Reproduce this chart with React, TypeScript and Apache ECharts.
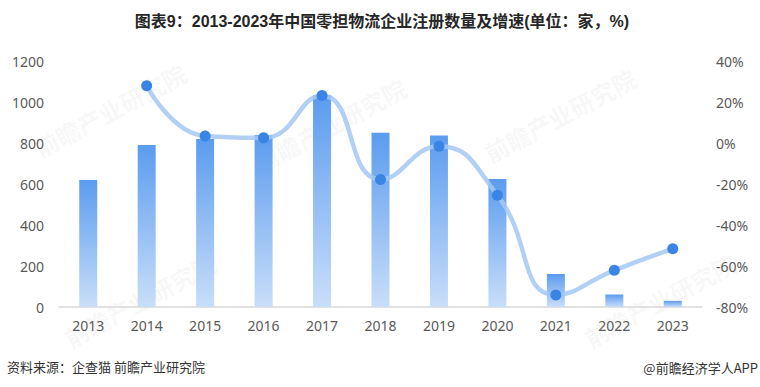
import React, { useEffect, useRef } from "react";
import * as echarts from "echarts";

const years = ["2013", "2014", "2015", "2016", "2017", "2018", "2019", "2020", "2021", "2022", "2023"];
const registrations = [619, 790, 819, 839, 1034, 850, 837, 624, 161, 61, 30];
const growth = [null, 27.9, 3.4, 2.5, 23.2, -17.8, -1.6, -25.5, -74.1, -62.1, -51.6];

const titleText = "图表9：2013-2023年中国零担物流企业注册数量及增速(单位：家，%)";
const sourceText = "资料来源：企查猫 前瞻产业研究院";
const brandText = "@前瞻经济学人APP";
const watermarkText = "前瞻产业研究院";

export default function App() {
  const ref = useRef<HTMLDivElement>(null);
  useEffect(() => {
    document.body.style.margin = "0";
    if (!ref.current) return;
    const chart = echarts.init(ref.current, null, { renderer: "svg" });
    const wm = (x: number, y: number) => ({
      type: "text",
      x,
      y,
      rotation: (28 * Math.PI) / 180,
      z: 0,
      silent: true,
      style: {
        text: watermarkText,
        fontSize: 24,
        fontWeight: "bold",
        fontFamily: "Noto Sans CJK SC",
        fill: "rgba(170,170,170,0.09)",
        align: "center",
        verticalAlign: "middle",
      },
    });
    chart.setOption({
      animation: false,
      grid: { left: 59, right: 58, top: 61, bottom: 80, containLabel: false },
      graphic: [
        wm(110, 110),
        wm(330, 125),
        wm(560, 115),
        wm(140, 300),
        wm(660, 300),
        {
          type: "text",
          x: 382,
          y: 21,
          z: 10,
          style: {
            text: titleText,
            fontSize: 16,
            fontWeight: "bold",
            fontFamily: "Liberation Sans, Noto Sans CJK SC",
            fill: "#262626",
            align: "center",
            verticalAlign: "middle",
          },
        },
        {
          type: "text",
          x: 7,
          y: 366,
          z: 10,
          style: {
            text: sourceText,
            fontSize: 13,
            fontFamily: "Noto Sans CJK SC",
            fill: "#333",
            align: "left",
            verticalAlign: "middle",
          },
        },
        {
          type: "text",
          x: 758,
          y: 367,
          z: 10,
          style: {
            text: brandText,
            fontSize: 13,
            fontFamily: "Noto Sans CJK SC",
            fill: "#333",
            align: "right",
            verticalAlign: "middle",
          },
        },
      ],
      xAxis: {
        type: "category",
        data: years,
        axisTick: { show: false },
        axisLine: { lineStyle: { color: "#d9d9d9", width: 1.5 } },
        axisLabel: { color: "#595959", fontSize: 14, fontFamily: "Noto Sans", margin: 11 },
      },
      yAxis: [
        {
          type: "value",
          min: 0,
          max: 1200,
          interval: 200,
          splitLine: { show: false },
          axisLine: { show: false },
          axisTick: { show: false },
          axisLabel: {
            color: "#595959",
            fontSize: 14,
            fontFamily: "Noto Sans",
            margin: 15,
            formatter: (v: number) => String(v),
          },
        },
        {
          type: "value",
          min: -80,
          max: 40,
          interval: 20,
          splitLine: { show: false },
          axisLine: { show: false },
          axisTick: { show: false },
          axisLabel: {
            color: "#595959",
            fontSize: 14,
            fontFamily: "Noto Sans",
            margin: 14,
            formatter: "{value}%",
          },
        },
      ],
      series: [
        {
          type: "bar",
          data: registrations,
          barWidth: 18,
          yAxisIndex: 0,
          itemStyle: {
            color: new echarts.graphic.LinearGradient(0, 0, 0, 1, [
              { offset: 0, color: "#5b9cef" },
              { offset: 1, color: "#c9def9" },
            ]),
          },
        },
        {
          type: "line",
          data: growth,
          yAxisIndex: 1,
          smooth: 0.5,
          symbol: "circle",
          symbolSize: 11,
          lineStyle: { color: "rgba(164,200,245,0.85)", width: 4.5 },
          itemStyle: { color: "#3a84e6" },
          z: 5,
        },
      ],
    });
    return () => chart.dispose();
  }, []);
  return <div ref={ref} style={{ width: 760, height: 387 }} />;
}
